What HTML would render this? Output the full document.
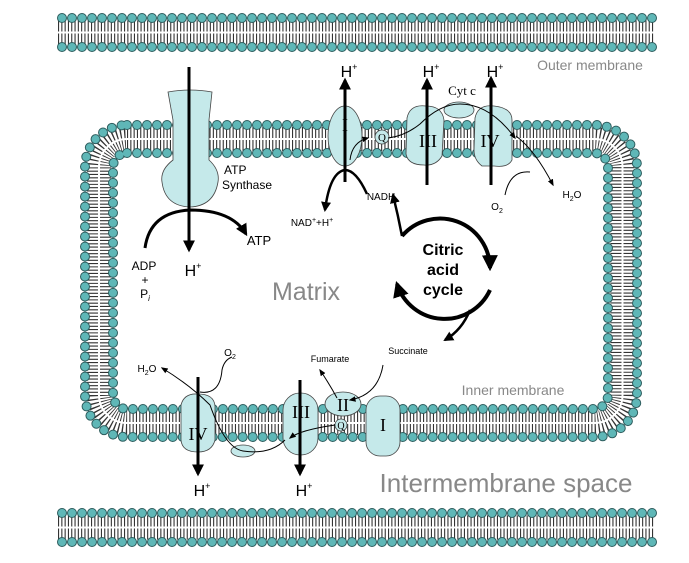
<!DOCTYPE html>
<html><head><meta charset="utf-8"><style>
html,body{margin:0;padding:0;background:#fff;}
svg{display:block;}
text{font-family:"Liberation Sans","DejaVu Sans",sans-serif;}
.s{font-family:"Liberation Serif",serif;}
</style></head><body>
<svg id="sv" width="689" height="563" viewBox="0 0 689 563" xmlns="http://www.w3.org/2000/svg">
<defs>
<marker id="ah" viewBox="0 0 10 10" refX="8" refY="5" markerWidth="4" markerHeight="4" orient="auto"><path d="M0,0 L10,5 L0,10 z" fill="#000"/></marker>
<marker id="as" viewBox="0 0 10 10" refX="8" refY="5" markerWidth="7" markerHeight="7" orient="auto"><path d="M0,1 L10,5 L0,9 z" fill="#000"/></marker>
</defs>
<g id="mem"></g>
<g id="prot" fill="#c5e9ea" stroke="#444" stroke-width="0.8">
<path d="M168,92 Q190,88 212,92 L209,120 L209,160 Q220,170 218,182 Q214,206 190,207 Q165,206 162,182 Q160,170 173,160 L173,120 Z"/>
<ellipse cx="345" cy="136" rx="17" ry="30"/>
<path d="M407,118 Q410,104 426,106 Q442,106 444,120 L442,156 Q436,166 424,165 Q408,165 406,154 Z"/>
<ellipse cx="459" cy="110" rx="15" ry="8"/>
<path d="M475,118 Q478,104 494,106 Q512,108 512,120 L512,160 Q508,168 494,166 L482,166 Q474,160 474,150 Z"/>
<circle cx="382" cy="137" r="7"/>
<path d="M181,405 Q184,393 198,394 Q214,394 215,406 L215,440 Q212,452 198,452 Q182,452 181,440 Z"/>
<ellipse cx="243" cy="451" rx="12" ry="6"/>
<rect x="283" y="393" width="35" height="62" rx="17"/>
<ellipse cx="343" cy="404" rx="18" ry="12"/>
<circle cx="341" cy="425" r="6"/>
<rect x="366" y="396" width="34" height="60" rx="14"/>
</g>
<g font-size="18" text-anchor="middle" fill="#000">
<text class="s" x="345" y="131">I</text>
<text class="s" x="428" y="147">III</text>
<text class="s" x="490" y="147">IV</text>
<text class="s" x="382" y="141" font-size="11">Q</text>
<text class="s" x="198" y="440">IV</text>
<text class="s" x="301" y="418">III</text>
<text class="s" x="343" y="411">II</text>
<text class="s" x="341" y="429" font-size="10">Q</text>
<text class="s" x="383" y="431">I</text>
<text class="s" x="462" y="95" font-size="13">Cyt c</text>
</g>
<g fill="none" stroke="#000">
<line x1="189" y1="67" x2="189" y2="250" stroke-width="3" marker-end="url(#ah)"/>
<line x1="345" y1="182" x2="345" y2="80" stroke-width="3" marker-end="url(#ah)"/>
<line x1="427" y1="185" x2="427" y2="80" stroke-width="3" marker-end="url(#ah)"/>
<line x1="491" y1="185" x2="491" y2="78" stroke-width="3" marker-end="url(#ah)"/>
<line x1="198" y1="377" x2="198" y2="474" stroke-width="3" marker-end="url(#ah)"/>
<line x1="300" y1="380" x2="300" y2="474" stroke-width="3" marker-end="url(#ah)"/>
<path d="M145,248 Q150,212 190,210 Q232,210 246,234" stroke-width="3" marker-end="url(#ah)"/>
<path d="M367,194 Q356,170 345,170 Q330,172 325,210" stroke-width="2.5" marker-end="url(#ah)"/>
<path d="M350,160 Q352,142 368,138" stroke-width="1" marker-end="url(#as)"/>
<path d="M388,138 Q405,136 420,124 Q440,104 460,104 Q490,104 515,138" stroke-width="1" marker-end="url(#as)"/>
<path d="M516,136 Q535,150 553,185" stroke-width="1" marker-end="url(#as)"/>
<path d="M505,195 Q510,170 530,172" stroke-width="1"/>
<path d="M402,236 A50,50 0 0 1 490,268" stroke-width="4" marker-end="url(#ah)"/>
<path d="M490,290 A50,50 0 0 1 397,284" stroke-width="4" marker-end="url(#ah)"/>
<path d="M402,236 Q398,215 393,195" stroke-width="2.5" marker-end="url(#ah)"/>
<path d="M470,310 Q462,330 445,340" stroke-width="2.5" marker-end="url(#ah)"/>
<path d="M383,365 Q378,395 350,400" stroke-width="1" marker-end="url(#as)"/>
<path d="M337,398 Q330,385 320,370" stroke-width="1" marker-end="url(#as)"/>
<path d="M335,425 Q300,430 290,438" stroke-width="1" marker-end="url(#as)"/>
<path d="M285,440 Q270,455 243,451 Q225,448 210,405 Q190,385 162,368" stroke-width="1" marker-end="url(#as)"/>
<path d="M200,392 Q220,395 222,370 Q224,360 232,357" stroke-width="1"/>
</g>
<g fill="#000" font-size="11" text-anchor="middle">
<text x="349" y="77" font-size="16">H<tspan dy="-7" font-size="9">+</tspan></text>
<text x="431" y="77" font-size="16">H<tspan dy="-7" font-size="9">+</tspan></text>
<text x="495" y="77" font-size="16">H<tspan dy="-7" font-size="9">+</tspan></text>
<text x="193" y="276" font-size="16">H<tspan dy="-7" font-size="9">+</tspan></text>
<text x="202" y="496" font-size="16">H<tspan dy="-7" font-size="9">+</tspan></text>
<text x="304" y="496" font-size="16">H<tspan dy="-7" font-size="9">+</tspan></text>
<text x="224" y="174" text-anchor="start" font-size="12">ATP</text>
<text x="222" y="189" text-anchor="start" font-size="12">Synthase</text>
<text x="259" y="245" font-size="13">ATP</text>
<text x="144" y="270" font-size="12">ADP</text>
<text x="145" y="284" font-size="12">+</text>
<text x="145" y="298" font-size="12">P<tspan font-size="8" dy="3" font-style="italic">i</tspan></text>
<text x="381" y="200" font-size="10">NADH</text>
<text x="312" y="226" font-size="10">NAD<tspan dy="-4" font-size="7">+</tspan><tspan dy="4">+H</tspan><tspan dy="-4" font-size="7">+</tspan></text>
<text x="572" y="198" font-size="10">H<tspan font-size="7" dy="3">2</tspan><tspan dy="-3">O</tspan></text>
<text x="497" y="210" font-size="10">O<tspan font-size="7" dy="3">2</tspan></text>
<text x="147" y="372" font-size="10">H<tspan font-size="7" dy="3">2</tspan><tspan dy="-3">O</tspan></text>
<text x="230" y="356" font-size="10">O<tspan font-size="7" dy="3">2</tspan></text>
<text x="330" y="362" font-size="9">Fumarate</text>
<text x="408" y="354" font-size="9">Succinate</text>
<text x="443" y="255" font-size="16" font-weight="bold">Citric</text>
<text x="443" y="275" font-size="16" font-weight="bold">acid</text>
<text x="443" y="295" font-size="16" font-weight="bold">cycle</text>
</g>
<g fill="#888" text-anchor="middle">
<text x="590" y="70" font-size="14">Outer membrane</text>
<text x="513" y="395" font-size="14">Inner membrane</text>
<text x="306" y="300" font-size="25">Matrix</text>
<text x="506" y="492" font-size="26">Intermembrane space</text>
</g>
</svg>
<script>
(function(){
var NS="http://www.w3.org/2000/svg",g=document.getElementById("mem");
function el(n,a){var e=document.createElementNS(NS,n);for(var k in a)e.setAttribute(k,a[k]);g.appendChild(e);return e;}
function rr(x1,y1,x2,y2,r){return "M"+(x1+r)+","+y1+" H"+(x2-r)+" A"+r+","+r+" 0 0 1 "+x2+","+(y1+r)+" V"+(y2-r)+" A"+r+","+r+" 0 0 1 "+(x2-r)+","+y2+" H"+(x1+r)+" A"+r+","+r+" 0 0 1 "+x1+","+(y2-r)+" V"+(y1+r)+" A"+r+","+r+" 0 0 1 "+(x1+r)+","+y1+" Z";}
function band(d){
 el("path",{d:d,fill:"none",stroke:"#fff","stroke-width":26});
 el("path",{d:d,fill:"none",stroke:"#333","stroke-width":24,"stroke-dasharray":"1.1 2.2"});
 el("path",{d:d,fill:"none",stroke:"#fff","stroke-width":2});
}
function heads(d){
 el("path",{d:d,fill:"none",stroke:"#2e5d5e","stroke-width":10,"stroke-linecap":"round","stroke-dasharray":"0 10"});
 el("path",{d:d,fill:"none",stroke:"#5fb7b7","stroke-width":8,"stroke-linecap":"round","stroke-dasharray":"0 10"});
}
[[18,47],[513,542]].forEach(function(p){
 var m=(p[0]+p[1])/2;band("M58,"+m+" H655");
 heads("M62,"+p[0]+" H655");heads("M62,"+p[1]+" H655");
});
band(rr(99,139,622.5,423,28));
heads(rr(85,125,637,437,42));
heads(rr(113,153,608,409,14));
})();
</script>
</body></html>
